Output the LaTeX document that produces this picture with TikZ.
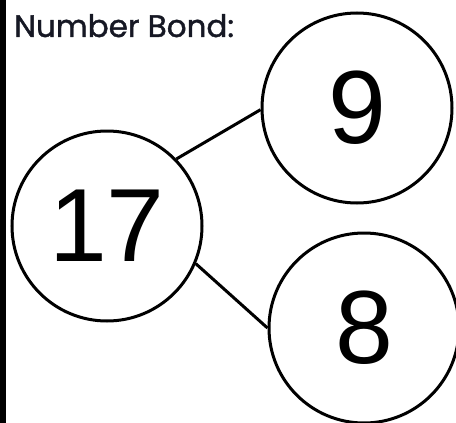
\documentclass[tikz,border=0pt]{standalone}
\usepackage{fontspec}
\setmainfont{Liberation Sans}
\newfontfamily\titlefont[FakeBold=1.3]{Poppins}
\definecolor{titleink}{RGB}{22,24,36}
\begin{document}
\begin{tikzpicture}[x=1pt,y=-1pt,
  bond/.style={circle,draw=black,line width=3pt,minimum size=190pt,inner sep=0pt,fill=white,font=\fontsize{104}{104}\selectfont},
  link/.style={line width=3pt,black}]
\useasboundingbox (0,0) rectangle (456,423);
\clip (0,0) rectangle (456,423);
\fill[white] (0,0) rectangle (456,423);
\fill[black] (0,0) rectangle (6,423);
\node[anchor=base west,inner sep=0pt,font=\titlefont\fontsize{31}{31}\selectfont,text=titleink] (title) at (14,37) {Number Bond:};
\node[bond] (n17) at (107,226) {17};
\node[bond] (n9) at (357,108) {9};
\node[bond] (n8) at (364,328) {8};
\draw[link] (n17.44) -- (n9.181);
\draw[link] (n17.-23) -- (n8.180);
\end{tikzpicture}
\end{document}
